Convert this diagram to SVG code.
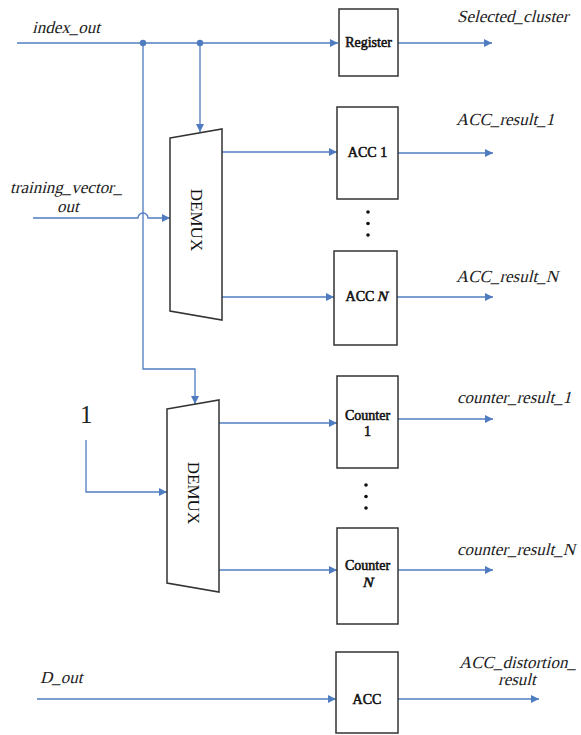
<svg xmlns="http://www.w3.org/2000/svg" width="581" height="735" viewBox="0 0 581 735">
<style>
.w{fill:none;stroke:#4f7cc0;stroke-width:1.3}
.a{marker-end:url(#ah)}
.box{fill:#fff;stroke:#333;stroke-width:1.5}
.lbl{font-family:"Liberation Serif","Times New Roman",serif;font-size:17px;fill:#222}
.bt{font-family:"Liberation Serif","Times New Roman",serif;font-size:14px;fill:#111;stroke:#111;stroke-width:0.55;text-anchor:middle}
.dm{font-family:"Liberation Serif","Times New Roman",serif;font-size:17px;fill:#111;text-anchor:middle;dominant-baseline:central}
</style>
<defs>
<marker id="ah" viewBox="0 0 10 10" refX="10" refY="5" markerWidth="9" markerHeight="8" markerUnits="userSpaceOnUse" orient="auto">
<path d="M0 0L10 5L0 10z" fill="#4f7cc0"/>
</marker>
</defs>
<g id="connectors">
<path class="w a" d="M17 43H338"/>
<path class="w a" d="M398 43H492"/>
<path class="w a" d="M200 43V132"/>
<path class="w a" d="M143 43V369H195V404"/>
<path class="w a" d="M33 218H138a5 5 0 0 1 10 0H170"/>
<path class="w a" d="M222 152H337"/>
<path class="w a" d="M222 297H334"/>
<path class="w a" d="M398 153H493"/>
<path class="w a" d="M397 297H493"/>
<path class="w a" d="M86 440V492H167"/>
<path class="w a" d="M219 423H337"/>
<path class="w a" d="M219 570H337"/>
<path class="w a" d="M398 419H493"/>
<path class="w a" d="M398 570H493"/>
<path class="w a" d="M37 699H336"/>
<path class="w a" d="M398 699H539"/>
<circle cx="143" cy="43" r="3.2" fill="#4f7cc0"/>
<circle cx="200" cy="43" r="3.2" fill="#4f7cc0"/>
</g>
<g id="labels">
<text class="lbl" transform="translate(32 33) skewX(-14)">index_out</text>
<text class="lbl" transform="translate(457 22) skewX(-14)">Selected_cluster</text>
<text class="lbl" transform="translate(10 193) skewX(-14)">training_vector_</text>
<text class="lbl" transform="translate(57 212) skewX(-14)">out</text>
<text class="lbl" transform="translate(456 125) skewX(-14)">ACC_result_1</text>
<text class="lbl" transform="translate(456 282) skewX(-14)">ACC_result_N</text>
<text x="80" y="423" style="font-family:'Liberation Serif',serif;font-size:25px;fill:#222">1</text>
<text class="lbl" transform="translate(457 403) skewX(-14)">counter_result_1</text>
<text class="lbl" transform="translate(457 555) skewX(-14)">counter_result_N</text>
<text class="lbl" transform="translate(40 683) skewX(-14)">D_out</text>
<text class="lbl" transform="translate(459 668) skewX(-14)">ACC_distortion_</text>
<text class="lbl" transform="translate(498 685) skewX(-14)">result</text>
</g>
<g id="register">
<rect class="box" x="339" y="9" width="59" height="67"/>
<text class="bt" x="368.5" y="47">Register</text>
</g>
<g id="demux1">
<path class="box" d="M170 138L222 129V320L170 311Z"/>
<text class="dm" transform="rotate(90 196 220)" x="196" y="220">DEMUX</text>
</g>
<g id="acc1">
<rect class="box" x="337" y="107" width="61" height="92"/>
<text class="bt" x="367.5" y="157">ACC 1</text>
</g>
<g id="dots1">
<circle cx="368" cy="212" r="1.8" fill="#111"/>
<circle cx="368" cy="223.5" r="1.8" fill="#111"/>
<circle cx="368" cy="235" r="1.8" fill="#111"/>
</g>
<g id="accN">
<rect class="box" x="334" y="251" width="63" height="94"/>
<text class="bt" x="360" y="301">ACC</text>
<text class="bt" transform="translate(382 301) skewX(-14)">N</text>
</g>
<g id="demux2">
<path class="box" d="M167 409L219 400V592L167 583Z"/>
<text class="dm" transform="rotate(90 193 493)" x="193" y="493">DEMUX</text>
</g>
<g id="counter1">
<rect class="box" x="337" y="376" width="61" height="92"/>
<text class="bt" x="367.5" y="420">Counter</text>
<text class="bt" x="367.5" y="436">1</text>
</g>
<g id="dots2">
<circle cx="366" cy="485" r="1.8" fill="#111"/>
<circle cx="366" cy="496.5" r="1.8" fill="#111"/>
<circle cx="366" cy="508" r="1.8" fill="#111"/>
</g>
<g id="counterN">
<rect class="box" x="337" y="528" width="61" height="96"/>
<text class="bt" x="367.5" y="570">Counter</text>
<text class="bt" transform="translate(367.5 587) skewX(-14)">N</text>
</g>
<g id="acc">
<rect class="box" x="336" y="652" width="62" height="81"/>
<text class="bt" x="367" y="704">ACC</text>
</g>
</svg>
